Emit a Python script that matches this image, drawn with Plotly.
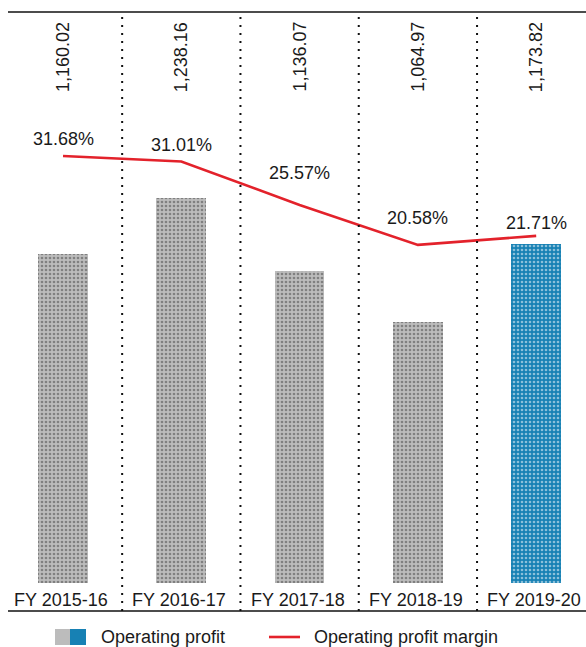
import plotly.graph_objects as go

categories = ["FY 2015-16", "FY 2016-17", "FY 2017-18", "FY 2018-19", "FY 2019-20"]
operating_profit = [1160.02, 1238.16, 1136.07, 1064.97, 1173.82]
profit_margin = [31.68, 31.01, 25.57, 20.58, 21.71]
value_labels = ["1,160.02", "1,238.16", "1,136.07", "1,064.97", "1,173.82"]
margin_labels = ["31.68%", "31.01%", "25.57%", "20.58%", "21.71%"]

# styling
FONT = "Liberation Sans, Arial, sans-serif"
TEXT = "#1a1a1a"
RED = "#e3222b"
GRAY, GRAY_DOT = "#bcbcbc", "#a2a2a2"
BLUE, BLUE_DOT = "#1781b4", "#0c699a"
BAR_BASE = 700  # bars in the source start from this value, not zero
label_shift = [17, 16, 32, 27, 13]

x = list(range(len(categories)))
colors = [GRAY] * 4 + [BLUE]
dots = [GRAY_DOT] * 4 + [BLUE_DOT]

fig = go.Figure()

fig.add_trace(go.Bar(
    x=x,
    y=[v - BAR_BASE for v in operating_profit],
    base=BAR_BASE,
    width=0.42,
    marker=dict(
        color=colors,
        line=dict(width=0),
        pattern=dict(shape=".", size=4, solidity=0.35, fgcolor=dots,
                     fillmode="overlay"),
    ),
    hoverinfo="skip",
    showlegend=False,
))

fig.add_trace(go.Scatter(
    x=x,
    y=profit_margin,
    yaxis="y2",
    mode="lines",
    line=dict(color=RED, width=2.6),
    hoverinfo="skip",
    showlegend=False,
))

# separators and frame lines
for i in range(len(categories) - 1):
    fig.add_shape(type="line", xref="x", yref="paper", x0=i + 0.5, x1=i + 0.5,
                  y0=0, y1=1, line=dict(color="#111111", width=2, dash="2px,6px"))
for yy in (0, 1):
    fig.add_shape(type="line", xref="paper", yref="paper", x0=0, x1=1,
                  y0=yy, y1=yy, line=dict(color="#111111", width=1.5))

annotations = []
for i, cat in enumerate(categories):
    annotations.append(dict(x=i, y=0, xref="x", yref="paper", text=cat,
                            showarrow=False, yanchor="middle", yshift=11, xshift=-2,
                            font=dict(size=18, color=TEXT)))
    annotations.append(dict(x=i, y=0.925, xref="x", yref="paper", text=value_labels[i],
                            showarrow=False, textangle=-90, yanchor="middle",
                            font=dict(size=18, color=TEXT)))
    annotations.append(dict(x=i, y=profit_margin[i], xref="x", yref="y2",
                            text=margin_labels[i], showarrow=False,
                            yanchor="middle", yshift=label_shift[i],
                            font=dict(size=18, color=TEXT)))


# legend drawn by hand (page pixels -> paper coords)
def px_x(p):
    return (p - 8) / 578


def px_y(p):
    return (611 - p) / 599


fig.add_shape(type="rect", xref="paper", yref="paper", x0=px_x(55), x1=px_x(70),
              y0=px_y(645), y1=px_y(629), fillcolor=GRAY, line=dict(width=0))
fig.add_shape(type="rect", xref="paper", yref="paper", x0=px_x(70), x1=px_x(86),
              y0=px_y(645), y1=px_y(629), fillcolor=BLUE, line=dict(width=0))
fig.add_shape(type="line", xref="paper", yref="paper", x0=px_x(269), x1=px_x(300),
              y0=px_y(637), y1=px_y(637), line=dict(color=RED, width=2.6))
annotations.append(dict(x=px_x(99), y=px_y(637), xref="paper", yref="paper",
                        text="Operating profit", showarrow=False, xanchor="left",
                        yanchor="middle", font=dict(size=18, color=TEXT)))
annotations.append(dict(x=px_x(312), y=px_y(637), xref="paper", yref="paper",
                        text="Operating profit margin", showarrow=False, xanchor="left",
                        yanchor="middle", font=dict(size=18, color=TEXT)))

fig.update_layout(
    width=586,
    height=647,
    margin=dict(l=8, r=0, t=12, b=36),
    paper_bgcolor="white",
    plot_bgcolor="white",
    font=dict(family=FONT, color=TEXT),
    xaxis=dict(range=[-0.465, 4.421], showticklabels=False, showgrid=False,
               zeroline=False, showline=False, ticks=""),
    yaxis=dict(range=[661.6, 1497.1], visible=False, showgrid=False),
    yaxis2=dict(range=[-25.19, 49.69], overlaying="y", visible=False, showgrid=False),
    annotations=annotations,
    bargap=0,
)

# drop the default page margin so the figure fills the window exactly
fig.write_html("out.html", config={"displayModeBar": False},
               post_script="document.body.style.margin='0';")
